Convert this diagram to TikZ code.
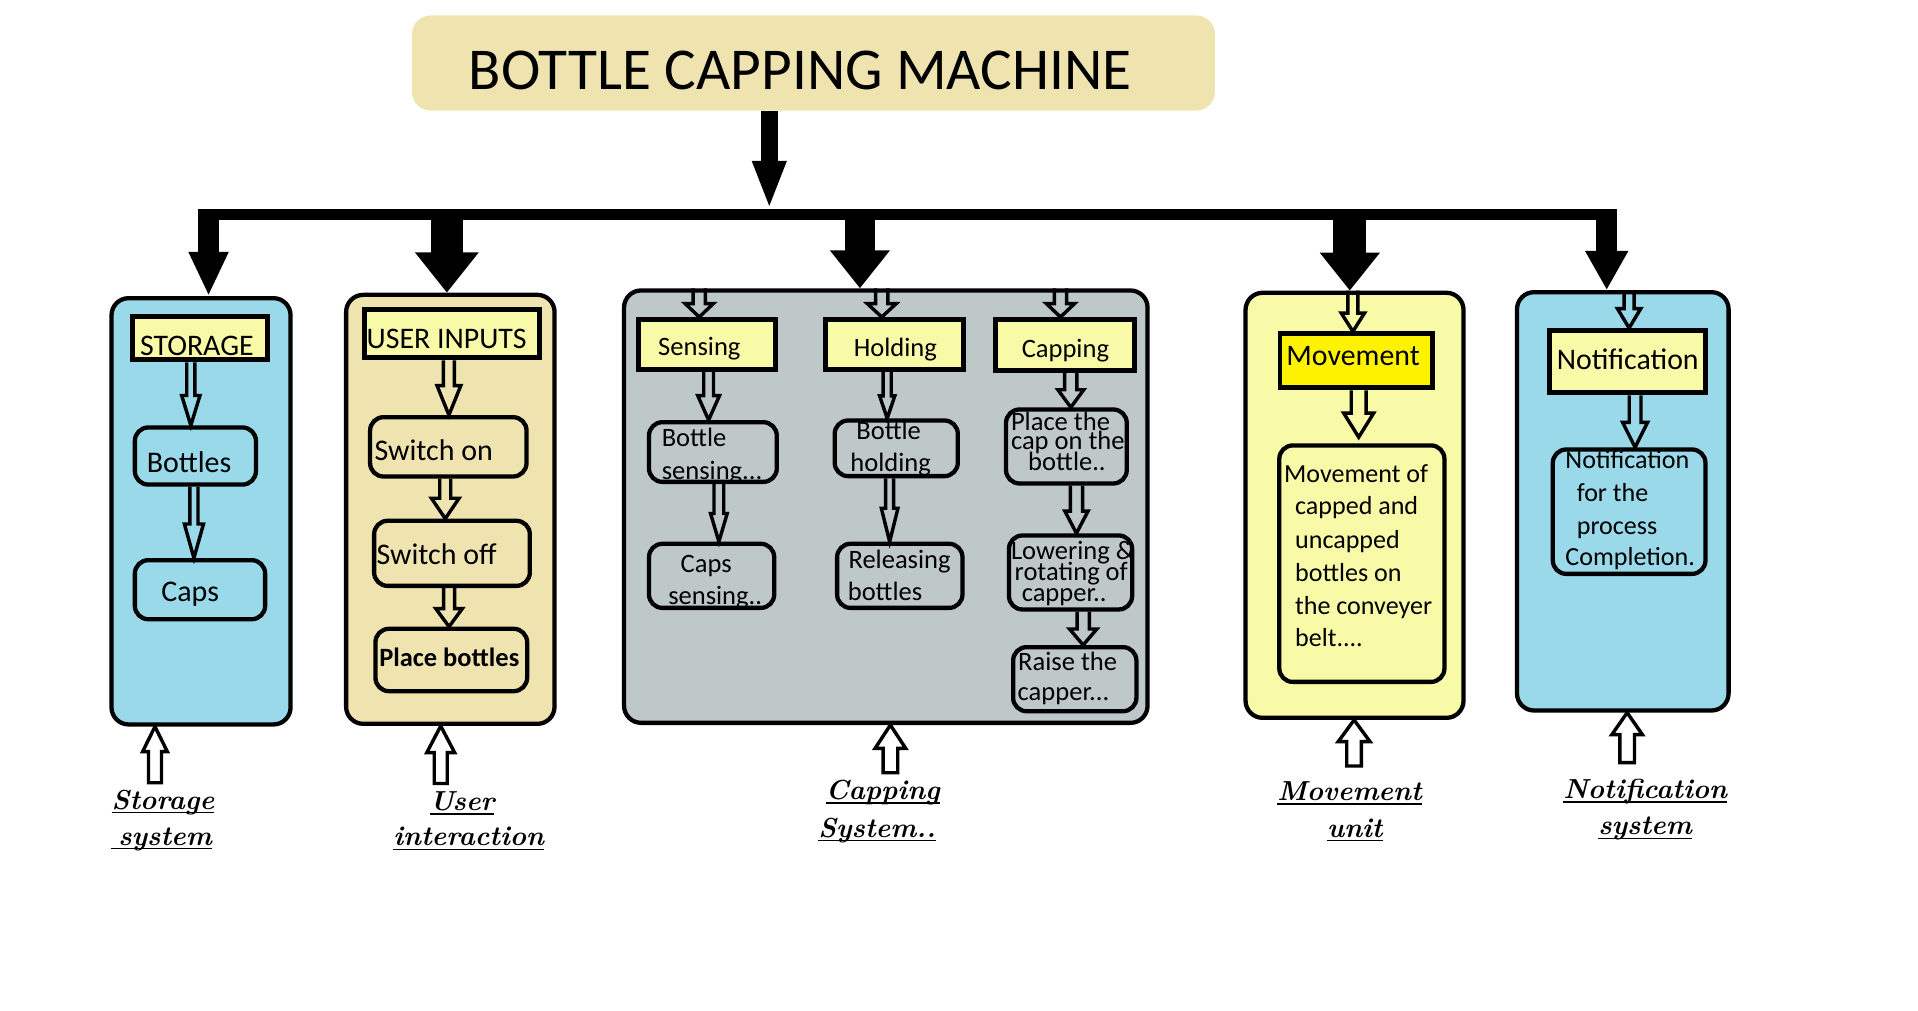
\documentclass[tikz,border=0pt]{standalone}
\usepackage{fontspec}
\newfontfamily\calib{Carlito}
\usetikzlibrary{arrows.meta,calc}
\definecolor{cblue}{HTML}{99D9EA}
\definecolor{ctan}{HTML}{EFE4B0}
\definecolor{cpale}{HTML}{F9FAA7}
\definecolor{cgrey}{HTML}{BFC8C9}
\definecolor{cyel}{HTML}{FFF200}
\newcommand\fL{\calib\fontsize{24.4}{29}\selectfont}
\newcommand\fM{\calib\fontsize{24.5}{29}\selectfont}
\newcommand\fS{\calib\fontsize{21.7}{26}\selectfont}
\newcommand\fT{\calib\fontsize{21.3}{26}\selectfont}
\newcommand\fB{\calib\bfseries\fontsize{21.6}{26}\selectfont}
\newcommand\at[3]{\makebox[0pt][l]{\hspace*{#1pt}\raisebox{-#2pt}[0pt][0pt]{#3}}}
\newcommand\ul[1]{\setbox0\hbox{#1}\rlap{\rule[-3.4pt]{\wd0}{1.3pt}}\box0}
\newcommand\bx[9][]{%
 \pgfmathsetmacro\bxcx{(#3+#5)/2}%
 \pgfmathsetmacro\bxcy{(#4+#6)/2}%
 \pgfmathsetmacro\bxw{#5-#3-3.5}%
 \pgfmathsetmacro\bxh{#6-#4-3.5}%
 \pgfmathsetmacro\bxdx{#7-\bxcx}%
 \pgfmathsetmacro\bxdy{#8-\bxcy}%
 \node[inner sep=0pt, minimum width=\bxw pt, minimum height=\bxh pt, #1] (#2) at (\bxcx,\bxcy) {\at{\bxdx}{\bxdy}{#9}};}
\newcommand\harr[6][]{%
 \draw[hollow] let \p1=(#2), \p2=(#3), \n1={sign(\y1-\y2)} in
  (\x1-#4pt,\y1) -- (\x1-#4pt,{\y2+\n1*#6pt}) -- (\x1-#5pt,{\y2+\n1*#6pt}) -- (\x1,\y2)
  -- (\x1+#5pt,{\y2+\n1*#6pt}) -- (\x1+#4pt,{\y2+\n1*#6pt}) -- (\x1+#4pt,\y1) #1;}
\tikzset{
 outerbox/.style={draw, line width=3.5pt, rounded corners=14pt},
 lbl/.style={draw, line width=4pt, fill=cpale, font=\fL},
 sub/.style={draw, line width=3.5pt, rounded corners=11pt},
 hollow/.style={draw, line width=2.8pt, line join=miter},
 btm/.style={inner sep=0pt, font=\bfseries\itshape\fontsize{22.5}{27}\selectfont}
}
\begin{document}
\begin{tikzpicture}[x=1pt,y=-1pt]
\useasboundingbox (0,0) rectangle (1568,826.5);
% title
\bx[fill=ctan, rounded corners=15pt, font={\calib\fontsize{48.5}{58}\selectfont}]{title}{335.1}{10.9}{994.9}{92.1}{383.4}{73}{BOTTLE CAPPING MACHINE}
% storage
\bx[outerbox, fill=cblue]{ST}{89.4}{242}{239.3}{594}{164}{418}{}
\bx[lbl]{stl}{106.8}{257}{220.2}{296}{114.5}{290.5}{STORAGE}
\bx[sub, fill=cblue, font=\fM]{stb}{108.5}{347.7}{211}{397.9}{120}{385.9}{Bottles}
\bx[sub, fill=cblue, font=\fM]{stc}{108.5}{456.2}{218.5}{508}{131.9}{491.9}{Caps}
% user
\bx[outerbox, fill=ctan]{UI}{281.2}{239.3}{455.1}{593.5}{368}{416}{}
\bx[lbl]{uil}{296}{251.2}{443}{294.3}{299.8}{284.8}{USER INPUTS}
\bx[sub, fill=ctan, font=\fM]{uon}{300.8}{339.3}{432.2}{391.3}{306.3}{376.1}{Switch on}
\bx[sub, fill=ctan, font=\fM]{uoff}{304.1}{424}{434.9}{480.7}{307.9}{461.1}{Switch off}
\bx[sub, fill=ctan, font=\fB]{upb}{305.2}{512.3}{432.7}{566.8}{310.1}{545}{Place bottles}
% capping
\bx[outerbox, fill=cgrey]{CP}{508.4}{235.7}{939.9}{592.7}{724}{414}{}
\bx[lbl, font=\fS]{cse}{520}{259.4}{636}{303.9}{538.1}{291}{Sensing}
\bx[lbl, font=\fS]{cho}{673.3}{259.4}{789.5}{303.9}{698}{291.5}{Holding}
\bx[lbl, font=\fS]{cca}{812}{259.4}{929.4}{304.6}{835.3}{292.1}{Capping}
\bx[sub, fill=cgrey, font=\fS]{cbs}{528.8}{343.4}{636.8}{395.7}{541}{365.2}{\at{0}{0}{Bottle}\at{0}{26.7}{sensing...}}
\bx[sub, fill=cgrey, font=\fS]{ccs}{528.8}{442.8}{634.7}{498.7}{556.5}{467.9}{\at{0}{0}{Caps}\at{-10.2}{25.9}{sensing..}}
\bx[sub, fill=cgrey, font=\fS]{cbh}{680.6}{342}{784.8}{391}{700.1}{359.2}{\at{0}{0}{Bottle}\at{-4.9}{26.4}{holding}}
\bx[sub, fill=cgrey, font=\fS]{crb}{682.6}{442.8}{788.6}{498.7}{693.7}{464.6}{\at{0}{0}{Releasing}\at{-0.6}{26.4}{bottles}}
\bx[sub, fill=cgrey, font=\fS]{cpl}{820.7}{333}{922.9}{397}{826.5}{352.1}{\at{0}{0}{Place the}\at{0}{15.2}{cap on the}\at{14.1}{32.7}{bottle..}}
\bx[sub, fill=cgrey, font=\fS]{clo}{823.1}{436}{927.3}{500}{826.5}{457.8}{\at{0}{0}{Lowering \&}\at{3}{16.4}{rotating of}\at{8.8}{34.1}{capper..}}
\bx[sub, fill=cgrey, font=\fS]{cra}{826.5}{527.3}{930.8}{583.2}{832.4}{548.3}{\at{0}{0}{Raise the}\at{-0.4}{24.5}{capper...}}
% movement
\bx[outerbox, fill=cpale]{MV}{1016.5}{237.6}{1198.2}{588.6}{1107}{413}{}
\bx[lbl, fill=cyel]{mvl}{1044.7}{271.2}{1172.8}{318.8}{1051.7}{299.2}{Movement}
\bx[sub, fill=cpale, font=\fT]{mvt}{1044.1}{362.4}{1182.6}{559.2}{1058.8}{394.6}{\at{-9}{0}{Movement of}\at{0}{26.4}{capped and}\at{0}{53.7}{uncapped}\at{0}{80.9}{bottles on}\at{0}{107.4}{the conveyer}\at{0}{134.1}{belt....}}
% notification
\bx[outerbox, fill=cblue]{NT}{1238.4}{237.1}{1414.9}{582.6}{1326}{410}{}
\bx[lbl]{ntl}{1265.1}{268.4}{1396}{322.9}{1272.7}{301.9}{Notification}
\bx[sub, fill=cblue, font=\fT]{ntt}{1267.7}{365.7}{1396}{470.9}{1279.8}{382.9}{\at{0}{0}{Notification}\at{9.3}{27.2}{for the}\at{9.3}{53.7}{process}\at{0}{79.8}{Completion.}}
% main arrow and bus
\coordinate (bm) at (628.9,171);
\draw[line width=14pt, -{Triangle[length=39.5pt,width=25.3pt]}] ([xshift=-36.1pt]title.south) -- (bm);
\coordinate (busL) at (162,175.5);
\coordinate (busR) at (1322,175.5);
\draw[line width=8.8pt] (busL) -- (busR);
\coordinate (b1) at (170.5,171.1);
\coordinate (b2) at (365.3,171.1);
\coordinate (b3) at (703,171.1);
\coordinate (b4) at (1103.5,171.1);
\coordinate (b5) at (1313.5,171.1);
\draw[line width=17pt, -{Triangle[length=36pt,width=30pt]}] (b1) -- (b1 |- ST.north);
\draw[line width=26.5pt, -{Triangle[length=33pt,width=50pt]}] (b2) -- (b2 |- UI.north);
\draw[line width=25pt, -{Triangle[length=31pt,width=47pt]}] (b3) -- (b3 |- CP.north);
\draw[line width=27pt, -{Triangle[length=31pt,width=47pt]}] (b4) -- (b4 |- MV.north);
\draw[line width=17pt, -{Triangle[length=32pt,width=33pt]}] (b5) -- (b5 |- NT.north);
% inner hollow arrows
\harr{[xshift=-7.5pt]stl.south}{stb.north}{3.3}{7.5}{24.4}
\harr{[xshift=-1.2pt]stb.south}{stc.north}{3.3}{7.8}{27.8}
\harr{[xshift=-2.5pt]uil.south}{uon.north}{4.5}{9.7}{24}
\harr{[xshift=-2.5pt]uon.south}{uoff.north}{4.5}{11.3}{16.7}
\harr{[xshift=-2.4pt]uoff.south}{upb.north}{4.5}{10.8}{14.7}
\harr{[xshift=-152.5pt]CP.north}{cse.north}{5}{11.6}{11}
\harr{[xshift=-3.3pt]CP.north}{cho.north}{5}{11.9}{11}
\harr{[xshift=142.8pt]CP.north}{cca.north}{5}{11.6}{11}
\harr{[xshift=1.3pt]cse.south}{cbs.north}{4}{8.9}{20}
\harr{[xshift=4.9pt]cbs.south}{ccs.north}{4}{6.8}{23}
\harr{[xshift=-6.1pt]cho.south}{cbh.north}{3.3}{6.2}{18.3}
\harr{[xshift=-5.4pt]cbh.south}{crb.north}{3.3}{6.8}{27.3}
\harr{[xshift=4.7pt]cca.south}{cpl.north}{5}{10.6}{14.4}
\harr{[xshift=8.2pt]cpl.south}{clo.north}{5}{9.5}{18.2}
\harr{[xshift=10.3pt]clo.south}{cra.north}{5}{11.2}{13.1}
\harr{[xshift=-1.35pt]MV.north}{mvl.north}{4.1}{9.5}{15}
\harr{[xshift=2pt]mvl.south}{[yshift=5pt]mvt.north}{6.1}{12.2}{19.6}
\harr{[xshift=5.15pt]NT.north}{ntl.north}{4.1}{9.5}{15.8}
\harr{[xshift=6.15pt]ntl.south}{ntt.north}{4.8}{10.2}{20.4}
% bottom labels
\node[btm] (lst) at (91.3,661.6) {\at{0}{0}{\ul{Storage}}\at{-0.4}{29.2}{\ul{\hspace*{5.8pt}system}}};
\node[btm] (lui) at (351.5,662.8) {\at{0}{0}{\ul{User}}\at{-29.9}{28.8}{\ul{interaction}}};
\node[btm] (lcp) at (675.2,653.5) {\at{0}{0}{\ul{Capping}}\at{-6.2}{31}{\ul{System..}}};
\node[btm] (lmv) at (1044.3,654.6) {\at{0}{0}{\ul{Movement}}\at{40.7}{29.9}{\ul{unit}}};
\node[btm] (lnt) at (1278,652.7) {\at{0}{0}{\ul{Notification}}\at{28.6}{29.9}{\ul{system}}};
% upward hollow arrows
\coordinate (ua1) at (126.7,639.9);
\coordinate (ua2) at (360.3,640.5);
\coordinate (ua3) at (727.9,631.7);
\coordinate (ua4) at (1107,626.2);
\coordinate (ua5) at (1330.2,623.5);
\harr[-- cycle]{ua1}{ua1 |- ST.south}{5.3}{10.1}{20.5}
\harr[-- cycle]{ua2}{ua2 |- UI.south}{5.3}{11.4}{21.8}
\harr[-- cycle]{ua3}{ua3 |- CP.south}{6}{12.5}{19.1}
\harr[-- cycle]{ua4}{ua4 |- MV.south}{6}{13}{17.7}
\harr[-- cycle]{ua5}{ua5 |- NT.south}{6}{12.5}{18}
\end{tikzpicture}
\end{document}
